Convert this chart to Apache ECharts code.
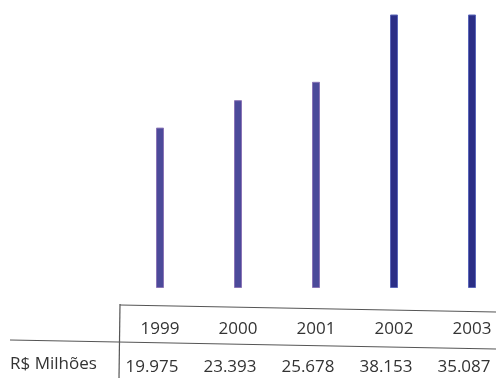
<!DOCTYPE html>
<html>
<head>
<meta charset="utf-8">
<script src="https://cdn.jsdelivr.net/npm/echarts@6/dist/echarts.min.js"></script>
<style>
  html, body { margin: 0; padding: 0; background: #ffffff; }
  #chart { width: 496px; height: 378px; }
</style>
</head>
<body>
<div id="chart"></div>
<script>
// Receita em R$ milhões por ano
const years = ['1999', '2000', '2001', '2002', '2003'];
const values = [19975, 23393, 25678, 38153, 35087];
const rowLabel = 'R$ Milhões';

// Barras dos três primeiros anos em azul-violeta, as dos dois últimos em azul-marinho
const barColors = ['#4c4a9a', '#4c4a9a', '#4c4a9a', '#2b2e86', '#2b2e86'];
const barWidths = [8, 8, 8, 6, 6];

// Número com ponto como separador de milhar (pt-BR)
function fmt(v) {
  return String(v).replace(/\B(?=(\d{3})+(?!\d))/g, '.');
}

const FONT = '"Open Sans", "DejaVu Sans", sans-serif';
const chart = echarts.init(document.getElementById('chart'), null, { renderer: 'canvas' });

chart.setOption({
  animation: false,
  backgroundColor: '#ffffff',
  grid: [
    { left: 121, width: 390, top: 15, bottom: 90, outerBoundsMode: 'none' },
    { left: 113, width: 390, top: 15, bottom: 90, outerBoundsMode: 'none' }
  ],
  xAxis: [
    {
      type: 'category', gridIndex: 0, data: years,
      axisLine: { show: false }, axisTick: { show: false },
      axisLabel: { margin: 32, fontFamily: FONT, fontSize: 17, lineHeight: 18, color: '#333333' }
    },
    {
      type: 'category', gridIndex: 1, data: values.map(fmt),
      axisLine: { show: false }, axisTick: { show: false },
      axisLabel: { margin: 70, fontFamily: FONT, fontSize: 17, lineHeight: 18, color: '#333333' }
    }
  ],
  yAxis: [
    { type: 'value', gridIndex: 0, min: 0, max: 34000, show: false },
    { type: 'value', gridIndex: 1, min: 0, max: 34000, show: false }
  ],
  series: [{
    type: 'bar',
    xAxisIndex: 0, yAxisIndex: 0,
    clip: true,
    barWidth: 8,
    data: values.map((v, i) => ({
      value: v,
      itemStyle: {
        color: barColors[i],
        borderColor: i < 3 ? '#8a74b6' : '#5a66b8',
        borderWidth: 1
      }
    }))
  }],
  graphic: [
    // Linhas da tabela
    { type: 'line', shape: { x1: 120, y1: 305, x2: 496, y2: 312 }, style: { stroke: '#555555', lineWidth: 1.2 } },
    { type: 'line', shape: { x1: 10, y1: 340, x2: 496, y2: 349 }, style: { stroke: '#555555', lineWidth: 1.2 } },
    { type: 'line', shape: { x1: 120, y1: 304, x2: 119, y2: 378 }, style: { stroke: '#555555', lineWidth: 1.2 } },
    {
      type: 'text', left: 10, top: 356,
      style: { text: rowLabel, font: '17px ' + FONT, fill: '#333333' }
    }
  ]
});
</script>
</body>
</html>
